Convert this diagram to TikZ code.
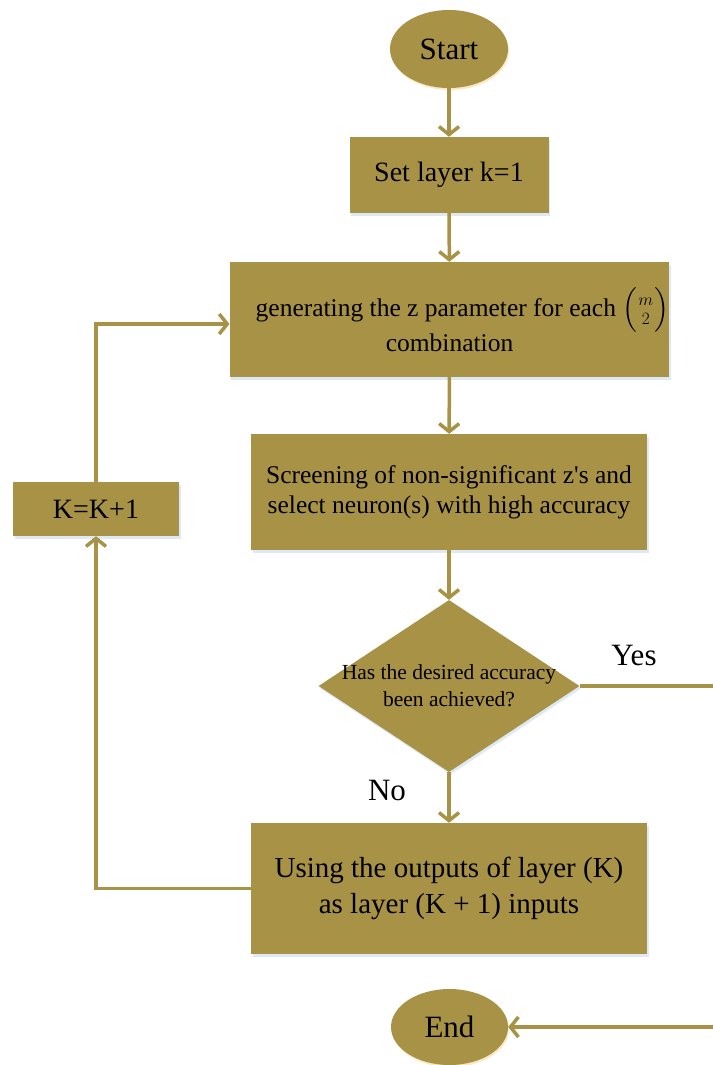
\documentclass[tikz,border=0pt]{standalone}
\usepackage{amsmath}
\usepackage{fontspec}
\setmainfont{Liberation Serif}
\usetikzlibrary{arrows.meta,shapes.geometric,shadows}
\definecolor{boxgold}{RGB}{168,146,70}
\definecolor{shadeblue}{RGB}{214,228,242}
\definecolor{shadeorange}{RGB}{250,226,180}
\begin{document}
\begin{tikzpicture}[x=1pt,y=-1pt,
  box/.style={rectangle, fill=boxgold, inner sep=0pt, align=center,
    drop shadow={shadow xshift=1.5pt, shadow yshift=-2.5pt, fill=shadeblue, opacity=0.8}},
  term/.style={ellipse, fill=boxgold, inner sep=0pt,
    drop shadow={shadow xshift=1pt, shadow yshift=-2pt, fill=shadeorange, opacity=0.8},
    font=\fontsize{31}{34}\selectfont},
  decision/.style={diamond, fill=boxgold, inner sep=0pt,
    drop shadow={shadow xshift=1.5pt, shadow yshift=-2.5pt, fill=shadeblue, opacity=0.8}},
  conn/.style={draw=boxgold, line width=3.5pt,
    -{Straight Barb[length=8pt,width=20pt,line width=3.5pt]}},
  lbl/.style={font=\fontsize{31}{34}\selectfont}
]
\useasboundingbox (0,0) rectangle (712,1065);

\node[term, minimum width=118pt, minimum height=78pt] (start) at (449,49) {Start};
\node[box, minimum width=199pt, minimum height=76pt, font=\fontsize{28}{32}\selectfont] (set) at (449,175) {Set layer k=1};
\node[box, minimum width=437pt, minimum height=115pt, font=\fontsize{25.5}{30}\selectfont] (gen) at (449.5,319.5)
  {\hspace*{26pt}generating the z parameter for each $\Big(\genfrac{}{}{0pt}{1}{m}{2}\Big)$\\combination};
\node[box, minimum width=396pt, minimum height=116pt, font=\fontsize{25.5}{30}\selectfont] (scr) at (449,492)
  {Screening of non-significant z\textquotesingle s and\\select neuron(s) with high accuracy};
\node[decision, minimum width=261pt, minimum height=172pt] (dia) at (449,686) {};
\node[align=center, font=\fontsize{21.5}{27}\selectfont] (diatext) at (dia.center) {Has the desired accuracy\\been achieved?};
\node[box, minimum width=396pt, minimum height=131pt, font=\fontsize{29}{36}\selectfont] (using) at (449,888.5)
  {Using the outputs of layer (K)\\as layer (K + 1) inputs};
\node[box, minimum width=166pt, minimum height=54pt, font=\fontsize{28}{32}\selectfont] (kbox) at (96,509) {K=K+1};
\node[term, minimum width=117pt, minimum height=76pt] (end) at (449.5,1027) {End};

\node[lbl] (yes) at (634,655) {Yes};
\node[lbl] (no) at (387,790) {No};

\draw[conn] (start) -- (set);
\draw[conn] (set) -- (gen);
\draw[conn] (gen) -- (scr);
\draw[conn] (scr) -- (dia);
\draw[conn] (dia) -- (using);
\draw[conn] (using.west) -| (kbox.south);
\draw[conn] (kbox.north) |- ([yshift=-4.5pt]gen.west);
\draw[conn] (dia.east) -- ++(200,0) |- (end.east);
\end{tikzpicture}
\end{document}
